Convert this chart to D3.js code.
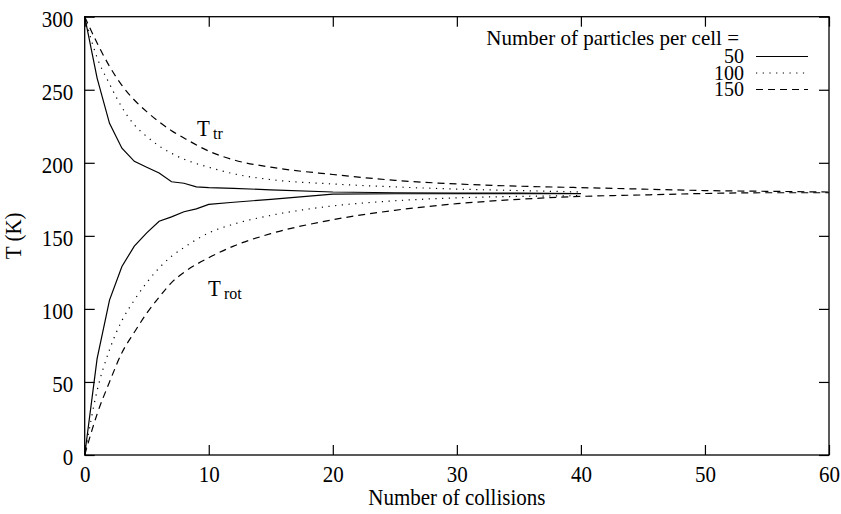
<!DOCTYPE html>
<html><head><meta charset="utf-8">
<script src="https://cdn.jsdelivr.net/npm/d3@7"></script>
<style>
body{margin:0;background:#fff;}
text{font-family:"Liberation Serif","Times New Roman",serif;fill:#000;}
text.st{transform-box:fill-box;transform-origin:center;transform:scaleY(1.1);}
</style></head>
<body><svg id="c" width="841" height="514"></svg>
<script>
const xTicks = [0,10,20,30,40,50,60];
const yTicks = [0,50,100,150,200,250,300];

const collisions50 = [0,1,2,3,4,5,6,7,8,9,10,12,15,20,25,30,35,40];
const ttr50  = [300,258,227,210,201,197,193,187,186,183.5,183,182.5,181.5,180,179.5,179.3,179.2,179];
const trot50 = [0,66,106,129,143,152,160,163,166.5,168.5,171.5,173,175,178.5,178.8,178.8,178.8,178.8];

const collisions100 = [0,1,2,3,4,5,6,7,8,10,12,15,20,25,30,35,40];
const ttr100  = [300,272,254,238,226,218,211.5,206.5,202.5,197,192.5,188.5,185.5,183.5,182,181,180];
const trot100 = [0,44,72,92,106,118,128,136,142,152,158,164,170.5,174,176,177,177.5];

const collisions150 = [0,1,2,3,4,5,6,7,8,10,12,15,20,25,30,35,40,45,50,55,60];
const ttr150  = [300,282,266,253,243,235,228,222,217,208,202,197,192,188,185.5,184,183,182,181,180.5,180];
const trot150 = [0,28,50,70,84,97,108,118,125,135,143,151.5,161,167.5,172,175,177,178,179,179.5,179.5];

const legendTitle = "Number of particles per cell =";
const legendLabels = ["50","100","150"];

const svg = d3.select("#c");
const L=84.7, R=829, T=16.7, B=455;
const x = d3.scaleLinear().domain([0,60]).range([L,R]);
const y = d3.scaleLinear().domain([0,300]).range([B,T]);
const fs = 21;

const gx = svg.append("g").attr("transform",`translate(0,${B})`)
  .call(d3.axisBottom(x).tickValues(xTicks).tickSize(-10).tickPadding(11).tickFormat(d3.format("d")));
const gxt = svg.append("g").attr("transform",`translate(0,${T})`)
  .call(d3.axisTop(x).tickValues(xTicks).tickSize(-10).tickFormat(""));
const gy = svg.append("g").attr("transform",`translate(${L},0)`)
  .call(d3.axisLeft(y).tickValues(yTicks).tickSize(-10).tickPadding(11.5).tickFormat(d3.format("d")));
const gyr = svg.append("g").attr("transform",`translate(${R},0)`)
  .call(d3.axisRight(y).tickValues(yTicks).tickSize(-10).tickFormat(""));
[gx,gxt,gy,gyr].forEach(g=>{
  g.select(".domain").remove();
  g.selectAll("line").attr("stroke","#000").attr("stroke-width",1.2);
  g.selectAll("text").attr("class","st").style("font-size",fs+"px").style("font-family","'Liberation Serif',serif");
});
gy.selectAll("text").attr("dy","0.42em");
svg.append("rect").attr("x",L).attr("y",T).attr("width",R-L).attr("height",B-T)
  .attr("fill","none").attr("stroke","#000").attr("stroke-width",1.3);

svg.append("text").attr("class","st").attr("x",(L+R)/2).attr("y",504).attr("text-anchor","middle")
  .style("font-size",fs+"px").text("Number of collisions");
svg.append("text").attr("transform",`translate(21,${(T+B)/2}) rotate(-90) scale(1,1.1)`).attr("text-anchor","middle")
  .style("font-size",fs+"px").text("T (K)");

const styles = [
  {dash:null},
  {dash:"1.2,5.5"},
  {dash:"7,5"}
];
const series = [
  {xs:collisions50, ys:ttr50, s:0},
  {xs:collisions50, ys:trot50, s:0},
  {xs:collisions100, ys:ttr100, s:1},
  {xs:collisions100, ys:trot100, s:1},
  {xs:collisions150, ys:ttr150, s:2},
  {xs:collisions150, ys:trot150, s:2}
];
series.forEach(se=>{
  const pts = se.xs.map((v,i)=>[v,se.ys[i]]);
  const line = d3.line().x(d=>x(d[0])).y(d=>y(d[1]))
    .curve(se.s===0?d3.curveLinear:d3.curveMonotoneX);
  svg.append("path").attr("d",line(pts)).attr("fill","none").attr("stroke","#000")
    .attr("stroke-width",1.2).attr("stroke-dasharray",styles[se.s].dash);
});

svg.append("text").attr("class","st").attr("x",197).attr("y",135).style("font-size",fs+"px").text("T");
svg.append("text").attr("class","st").attr("x",213).attr("y",138).style("font-size","16px").text("tr");
svg.append("text").attr("class","st").attr("x",208).attr("y",295).style("font-size",fs+"px").text("T");
svg.append("text").attr("class","st").attr("x",224).attr("y",298).style("font-size","16px").text("rot");

svg.append("text").attr("x",739).attr("y",44.5).attr("text-anchor","end").style("font-size",fs+"px").text(legendTitle);
legendLabels.forEach((lab,i)=>{
  const yy = 56.5 + i*16.5;
  svg.append("text").attr("x",744).attr("y",yy+6.5).attr("text-anchor","end").style("font-size","20px").text(lab);
  svg.append("line").attr("x1",756).attr("x2",808).attr("y1",yy).attr("y2",yy)
    .attr("stroke","#000").attr("stroke-width",1.2).attr("stroke-dasharray",styles[i].dash);
});
</script></body></html>
